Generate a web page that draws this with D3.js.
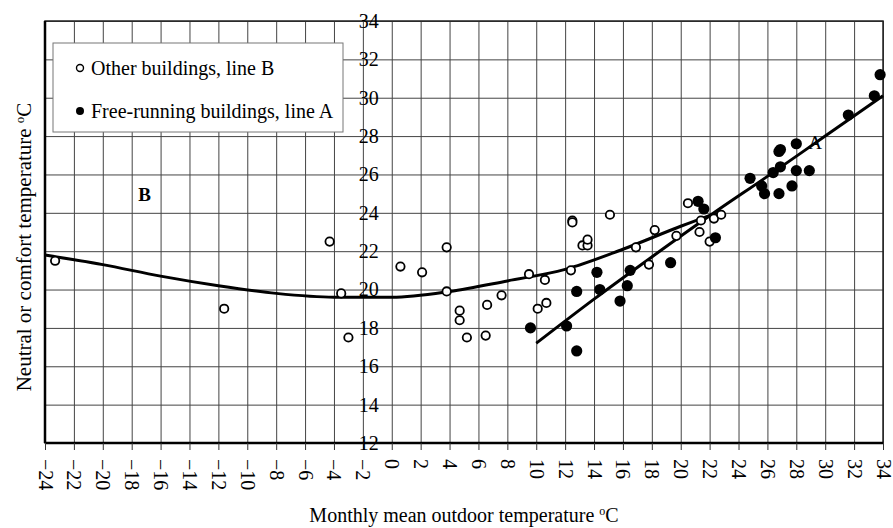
<!DOCTYPE html>
<html>
<head>
<meta charset="utf-8">
<script src="https://cdn.jsdelivr.net/npm/d3@7"></script>
<style>
  body { margin: 0; background: #fff; }
  svg text { font-family: "Liberation Serif", "Times New Roman", serif; fill: #000; }
</style>
</head>
<body>
<svg id="chart"></svg>
<script>
// open circles: other buildings (line B)
const otherBuildings = [
  [-23.3, 21.5], [-11.6, 19.0], [-4.3, 22.5], [-3.5, 19.8], [-3.0, 17.5],
  [0.6, 21.2], [2.1, 20.9], [3.8, 22.2], [3.8, 19.9], [4.7, 18.9], [4.7, 18.4],
  [5.2, 17.5], [6.5, 17.6], [6.6, 19.2], [7.6, 19.7], [9.5, 20.8], [10.1, 19.0],
  [10.6, 20.5], [10.7, 19.3], [12.4, 21.0], [12.5, 23.6], [12.5, 23.5],
  [13.2, 22.3], [13.55, 22.3], [13.55, 22.6], [15.1, 23.9], [16.9, 22.2],
  [17.8, 21.3], [18.2, 23.1], [19.7, 22.8], [20.5, 24.5], [21.3, 23.0],
  [21.4, 23.6], [22.0, 22.5], [22.3, 23.7], [22.8, 23.9],
];

// filled circles: free-running buildings (line A)
const freeRunning = [
  [9.6, 18.0], [12.1, 18.1], [12.8, 16.8], [12.8, 19.9], [14.2, 20.9],
  [14.4, 20.0], [15.8, 19.4], [16.3, 20.2], [16.5, 21.0], [19.3, 21.4],
  [21.2, 24.6], [21.6, 24.2], [22.4, 22.7], [24.8, 25.8], [25.6, 25.4],
  [25.8, 25.0], [26.4, 26.1], [26.8, 25.0], [26.9, 26.4], [26.8, 27.2],
  [26.9, 27.3], [27.7, 25.4], [28.0, 26.2], [28.0, 27.6], [28.9, 26.2],
  [31.6, 29.1], [33.4, 30.1], [33.8, 31.2],
];

// fitted lines
const lineB = [
  [-24, 21.8], [-20, 21.3], [-16, 20.7], [-12, 20.2], [-8, 19.8], [-4, 19.6],
  [0, 19.6], [4, 19.9], [8, 20.45], [12, 21.05], [16, 22.1], [20, 23.3], [22.5, 24.0],
];
const lineA = [
  [10, 17.2], [14, 19.5], [18, 21.7], [22.3, 24.0], [26, 25.9], [30, 28.0], [34, 30.1],
];

const xTicks = d3.range(-24, 35, 2);
const yTicks = d3.range(12, 35, 2);

const legendItems = [
  { label: "Other buildings, line B", filled: false },
  { label: "Free-running buildings, line A", filled: true },
];

const serif = '"Liberation Serif", "Times New Roman", serif';

const config = {
  width: 893,
  height: 528,
  margin: { top: 21, right: 10, bottom: 85, left: 45 },
};

const svg = d3.select("#chart")
  .attr("width", config.width)
  .attr("height", config.height);

const width = config.width - config.margin.left - config.margin.right;
const height = config.height - config.margin.top - config.margin.bottom;

const chart = svg.append("g")
  .attr("transform", `translate(${config.margin.left},${config.margin.top})`);

const xScale = d3.scaleLinear().domain([-24, 34]).range([0, width]);
const yScale = d3.scaleLinear().domain([12, 34]).range([height, 0]);

// grid
chart.append("g")
  .attr("class", "x-grid")
  .call(d3.axisBottom(xScale).tickValues(xTicks).tickSize(height).tickFormat(""))
  .call(g => g.select(".domain").remove())
  .call(g => g.selectAll("line").attr("stroke", "#444").attr("stroke-width", 1));

chart.append("g")
  .attr("class", "y-grid")
  .call(d3.axisLeft(yScale).tickValues(yTicks).tickSize(-width).tickFormat(""))
  .call(g => g.select(".domain").remove())
  .call(g => g.selectAll("line").attr("stroke", "#444").attr("stroke-width", 1));

// frame
chart.append("rect")
  .attr("width", width)
  .attr("height", height)
  .attr("fill", "none")
  .attr("stroke", "#222")
  .attr("stroke-width", 1.5);

chart.append("line")
  .attr("x1", 0).attr("x2", width)
  .attr("y1", height).attr("y2", height)
  .attr("stroke", "#000").attr("stroke-width", 2.5);
chart.append("line")
  .attr("x1", 0).attr("x2", 0)
  .attr("y1", 0).attr("y2", height)
  .attr("stroke", "#000").attr("stroke-width", 2.5);

// x axis with rotated labels
const xAxisGroup = chart.append("g")
  .attr("transform", `translate(0,${height})`)
  .call(d3.axisBottom(xScale).tickValues(xTicks).tickSize(7).tickFormat(d3.format("d")))
  .attr("font-family", serif);
xAxisGroup.select(".domain").remove();
xAxisGroup.selectAll("line").attr("stroke", "#333");
xAxisGroup.selectAll("text")
  .style("font-size", "20px")
  .attr("y", 0)
  .attr("x", 0)
  .attr("dy", null)
  .attr("text-anchor", "start")
  .attr("dominant-baseline", "central")
  .attr("transform", "translate(0,16) rotate(90)");

// y axis labels sit on the x = 0 line
const yAxisGroup = chart.append("g")
  .attr("transform", `translate(${xScale(0)},0)`)
  .call(d3.axisLeft(yScale).tickValues(yTicks).tickSize(0).tickPadding(13))
  .attr("font-family", serif);
yAxisGroup.select(".domain").remove();
yAxisGroup.selectAll("text").style("font-size", "20px");

// fitted lines
const line = d3.line()
  .x(d => xScale(d[0]))
  .y(d => yScale(d[1]))
  .curve(d3.curveMonotoneX);

chart.append("path")
  .datum(lineB)
  .attr("fill", "none")
  .attr("stroke", "#000")
  .attr("stroke-width", 3)
  .attr("d", line);

chart.append("path")
  .datum(lineA)
  .attr("fill", "none")
  .attr("stroke", "#000")
  .attr("stroke-width", 3)
  .attr("d", line);

// points
chart.append("g")
  .selectAll("circle")
  .data(otherBuildings)
  .join("circle")
  .attr("cx", d => xScale(d[0]))
  .attr("cy", d => yScale(d[1]))
  .attr("r", 4.2)
  .attr("fill", "#fff")
  .attr("stroke", "#000")
  .attr("stroke-width", 1.8);

chart.append("g")
  .selectAll("circle")
  .data(freeRunning)
  .join("circle")
  .attr("cx", d => xScale(d[0]))
  .attr("cy", d => yScale(d[1]))
  .attr("r", 5.6)
  .attr("fill", "#000");

// line labels
chart.append("text")
  .attr("x", xScale(-17.1))
  .attr("y", yScale(24.6))
  .attr("text-anchor", "middle")
  .style("font-size", "19px")
  .style("font-weight", "bold")
  .text("B");

chart.append("text")
  .attr("x", xScale(29.3))
  .attr("y", yScale(27.35))
  .attr("text-anchor", "middle")
  .style("font-size", "19px")
  .text("A");

// legend
const legend = chart.append("g")
  .attr("transform", "translate(8,22)");

legend.append("rect")
  .attr("width", 290)
  .attr("height", 89)
  .attr("fill", "#fff")
  .attr("stroke", "#777")
  .attr("stroke-width", 1);

const legendRows = legend.selectAll(".legend-item")
  .data(legendItems)
  .join("g")
  .attr("class", "legend-item")
  .attr("transform", (d, i) => `translate(27,${25 + i * 43})`);

legendRows.append("circle")
  .attr("r", d => d.filled ? 4 : 3.5)
  .attr("fill", d => d.filled ? "#000" : "#fff")
  .attr("stroke", "#000")
  .attr("stroke-width", d => d.filled ? 0 : 1.4);

legendRows.append("text")
  .attr("x", 11)
  .attr("y", 7)
  .style("font-size", "20px")
  .text(d => d.label);

// axis titles
svg.append("text")
  .attr("x", config.margin.left + xScale(5))
  .attr("y", 522)
  .attr("text-anchor", "middle")
  .style("font-size", "20px")
  .html("Monthly mean outdoor temperature <tspan baseline-shift=\"super\" font-size=\"12px\">o</tspan>C");

svg.append("text")
  .attr("transform", `translate(31,${config.margin.top + 226}) rotate(-90)`)
  .attr("text-anchor", "middle")
  .style("font-size", "21px")
  .html("Neutral or comfort temperature <tspan baseline-shift=\"super\" font-size=\"13px\">o</tspan>C");
</script>
</body>
</html>
